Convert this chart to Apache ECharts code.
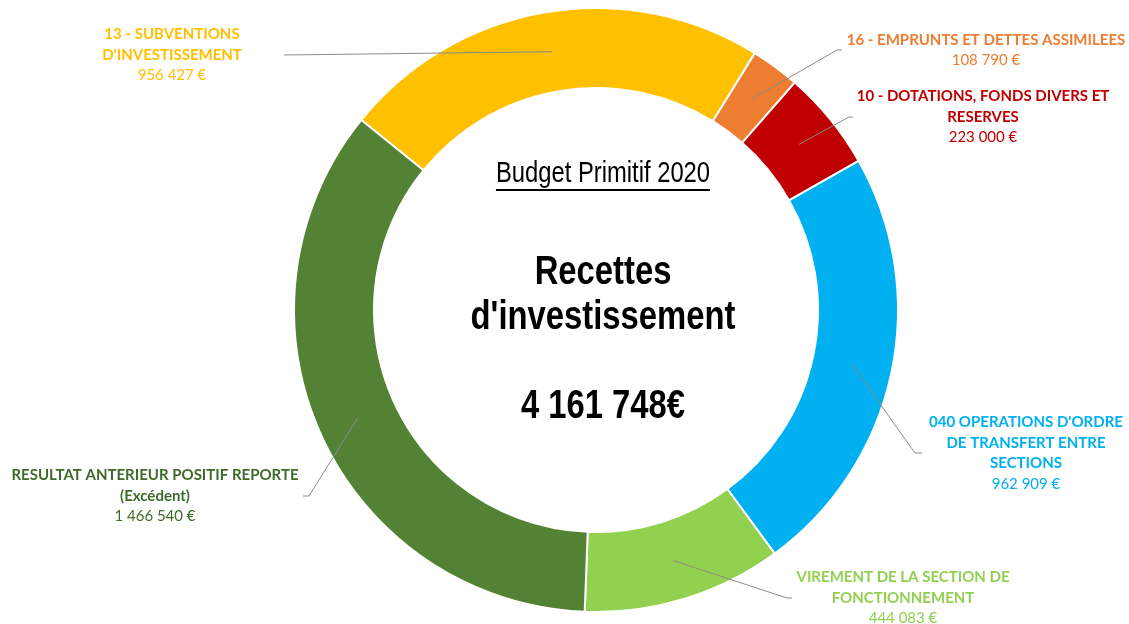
<!DOCTYPE html>
<html>
<head>
<meta charset="utf-8">
<script src="https://cdn.jsdelivr.net/npm/echarts@6/dist/echarts.min.js"></script>
<style>
  html, body { margin: 0; padding: 0; background: #fff; }
  #chart { width: 1129px; height: 624px; }
</style>
</head>
<body>
<div id="chart"></div>
<script>
// --- data ---
const categories = [
  "13 - SUBVENTIONS\nD'INVESTISSEMENT",
  '16 - EMPRUNTS ET DETTES ASSIMILEES',
  '10 - DOTATIONS, FONDS DIVERS ET\nRESERVES',
  "040 OPERATIONS D'ORDRE\nDE TRANSFERT ENTRE\nSECTIONS",
  'VIREMENT DE LA SECTION DE\nFONCTIONNEMENT',
  'RESULTAT ANTERIEUR POSITIF REPORTE\n(Excédent)'
];
const amounts = [956427, 108790, 223000, 962909, 444083, 1466540];
const chartTitle = 'Budget Primitif 2020';
const centerLines = ['Recettes', "d'investissement"];
const totalLabel = '4 161 748€';

// --- look ---
const sliceColors = ['#FFC000', '#ED7D31', '#C00000', '#00B0F0', '#92D050', '#548235'];
const textColors = ['#FFC000', '#ED7D31', '#C00000', '#00B0F0', '#92D050', '#3E6B2A'];
const cx = 596, cy = 310;
const rIn = 222, rOut = 302;
const anchorR = (rIn + rOut) / 2;
const textX = 603; // the centre block sits a little right of the ring centre

// where each label sits (centre) and where its leader line stops
const labelSpots = [
  { x: 172, y: 55, lineEnd: 284, bend: 0 },
  { x: 986, y: 50, lineEnd: 842, bend: 5 },
  { x: 983, y: 117, lineEnd: 853, bend: 4 },
  { x: 1026, y: 453, lineEnd: 922, bend: 7 },
  { x: 903, y: 598, lineEnd: 792, bend: 5 },
  { x: 155, y: 496, lineEnd: 303, bend: 6 }
];

const labelFont = 'Lato, "Open Sans", sans-serif';
const centerFont = '"Liberation Sans", Arial, sans-serif';
const narrow = 0.82; // squeeze Arial into Arial Narrow proportions

function euro(v) {
  return String(v).replace(/\B(?=(\d{3})+(?!\d))/g, ' ') + ' €';
}

function textWidth(txt, font) {
  const ctx = document.createElement('canvas').getContext('2d');
  ctx.font = font;
  return ctx.measureText(txt).width;
}

function centerText(txt, font, y) {
  return {
    type: 'text', x: textX, y: y, scaleX: narrow,
    style: { text: txt, font: font, fill: '#000', align: 'center', verticalAlign: 'middle' }
  };
}

const chart = echarts.init(document.getElementById('chart'));

const titleFont = '29px ' + centerFont;
const bigFont = 'bold 40px ' + centerFont;
const titleW = textWidth(chartTitle, titleFont) * narrow;

const sliceData = categories.map(function (c, i) {
  return { name: c, value: amounts[i], itemStyle: { color: sliceColors[i] } };
});

const labelData = categories.map(function (c, i) {
  return {
    name: c,
    value: amounts[i],
    label: { color: textColors[i], rich: { b: { color: textColors[i] }, v: { color: textColors[i] } } }
  };
});

const option = {
  backgroundColor: '#fff',
  animation: false,
  graphic: [
    centerText(chartTitle, titleFont, 174),
    {
      type: 'line',
      shape: { x1: textX - titleW / 2, y1: 190, x2: textX + titleW / 2, y2: 190 },
      style: { stroke: '#000', lineWidth: 2 }
    },
    centerText(centerLines[0], bigFont, 273),
    centerText(centerLines[1], bigFont, 318),
    centerText(totalLabel, bigFont, 407)
  ],
  series: [
    {
      // coloured ring
      type: 'pie',
      z: 2,
      center: [cx, cy],
      radius: [rIn, rOut],
      startAngle: 141,
      clockwise: true,
      silent: true,
      itemStyle: { borderColor: '#fff', borderWidth: 2 },
      label: { show: false },
      labelLine: { show: false },
      data: sliceData
    },
    {
      // same ring, invisible, carrying labels so leader lines sit above the slices
      type: 'pie',
      z: 3,
      center: [cx, cy],
      radius: [rIn, rOut],
      startAngle: 141,
      clockwise: true,
      silent: true,
      avoidLabelOverlap: false,
      itemStyle: { color: 'rgba(0,0,0,0)', borderWidth: 0 },
      label: {
        show: true,
        position: 'outside',
        formatter: function (p) {
          return '{b|' + p.name + '}\n{v|' + euro(p.value) + '}';
        },
        rich: {
          b: { fontFamily: labelFont, fontWeight: 'bold', fontSize: 15, lineHeight: 20.5 },
          v: { fontFamily: labelFont, fontWeight: 'normal', fontSize: 15, lineHeight: 20.5 }
        }
      },
      labelLine: { show: true, lineStyle: { color: '#8C8C8C', width: 1 } },
      labelLayout: function (p) {
        const spot = labelSpots[p.dataIndex];
        const p0 = p.labelLinePoints[0];
        const dx = p0[0] - cx, dy = p0[1] - cy;
        const len = Math.hypot(dx, dy) || 1;
        const ax = cx + dx / len * anchorR;
        const ay = cy + dy / len * anchorR;
        const side = spot.lineEnd > cx ? 1 : -1;
        const elbow = spot.lineEnd - side * spot.bend;
        return {
          x: spot.x,
          y: spot.y,
          align: 'center',
          verticalAlign: 'middle',
          labelLinePoints: [[ax, ay], [elbow, spot.y], [spot.lineEnd, spot.y]]
        };
      },
      data: labelData
    }
  ]
};

chart.setOption(option);
</script>
</body>
</html>
